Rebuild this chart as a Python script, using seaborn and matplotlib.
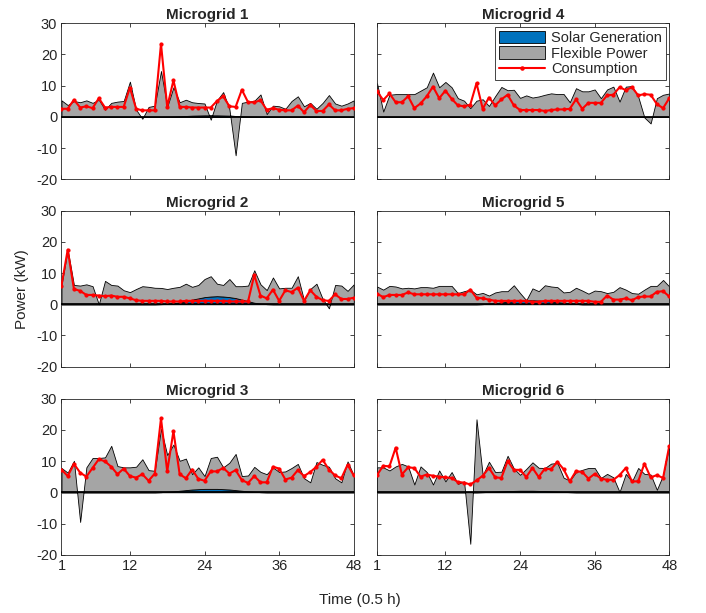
import numpy as np
import seaborn as sns
import matplotlib.pyplot as plt
from matplotlib.patches import Patch
from matplotlib.lines import Line2D

# === DATA (kW, 48 half-hour steps) ===
time_steps = list(range(1, 49))
grid_names = ["Microgrid 1", "Microgrid 2", "Microgrid 3",
              "Microgrid 4", "Microgrid 5", "Microgrid 6"]

consumption_1 = [2.6, 2.6, 5.5, 3.0, 3.4, 2.8, 6.0, 3.0, 3.2, 3.2,
                 3.2, 9.4, 2.6, 2.1, 2.1, 2.1, 23.4, 3.2, 11.7, 3.2,
                 3.2, 3.0, 3.0, 3.0, 3.0, 5.1, 6.6, 3.4, 3.2, 8.7,
                 4.7, 4.7, 5.3, 2.3, 2.8, 2.3, 2.1, 2.1, 3.6, 1.5,
                 3.8, 1.9, 1.9, 4.0, 2.1, 2.1, 2.6, 2.8]
flexible_1 = [5.3, 3.8, 5.1, 4.7, 5.3, 4.5, 5.5, 2.3, 4.5, 4.9,
              5.1, 11.3, 2.3, -0.6, 3.2, 3.6, 14.7, 3.2, 9.4, 4.5,
              5.2, 4.3, 4.0, 3.8, -1.4, 4.8, 7.5, 2.1, -12.6, 4.3,
              4.8, 5.1, 7.2, 0.9, 3.6, 3.4, 2.6, 5.1, 6.6, 3.4,
              4.5, 2.6, 4.5, 7.0, 4.3, 3.6, 4.3, 5.3]
solar_1 = [0, 0, 0, 0, 0, 0, 0, 0, 0, 0,
           0, 0, 0, 0, 0, 0, 0, 0.05, 0.1, 0.2,
           0.3, 0.4, 0.45, 0.5, 0.5, 0.5, 0.45, 0.4, 0.3, 0.2,
           0.1, 0.05, 0, 0, 0, 0, 0, 0, 0, 0,
           0, 0, 0, 0, 0, 0, 0, 0]

consumption_2 = [6.0, 17.5, 4.9, 4.3, 3.0, 3.0, 2.8, 2.6, 2.8, 2.4,
                 2.4, 1.9, 1.3, 1.1, 1.1, 1.1, 1.1, 0.9, 0.9, 0.9,
                 1.1, 1.1, 1.1, 1.1, 1.1, 1.1, 1.1, 0.9, 0.9, 0.9,
                 0.9, 9.4, 2.8, 1.9, 4.7, 1.1, 4.5, 3.9, 5.3, 1.1,
                 4.5, 2.4, 1.3, 1.1, 3.2, 1.7, 1.7, 2.1]
flexible_2 = [6.2, 17.5, 6.2, 6.0, 6.4, 5.8, 0.0, 7.5, 6.2, 6.0,
              4.5, 3.9, 4.9, 5.8, 5.6, 5.3, 5.2, 4.8, 5.0, 5.0,
              5.6, 4.1, 4.3, 5.8, 6.5, 4.0, 3.7, 5.8, 3.8, 4.3,
              5.0, 10.4, 6.2, 4.5, 8.6, 5.1, 5.3, 5.3, 9.0, 1.3,
              4.9, 6.6, 1.7, -1.3, 6.2, 6.0, 4.3, 6.4]
solar_2 = [0, 0, 0, 0, 0, 0, 0, 0, 0, 0,
           0, 0, 0, 0, 0, 0, 0.05, 0.1, 0.3, 0.6,
           1.0, 1.5, 1.9, 2.3, 2.5, 2.6, 2.5, 2.3, 2.0, 1.5,
           1.0, 0.5, 0.2, 0.05, 0, 0, 0, 0, 0, 0,
           0, 0, 0, 0, 0, 0, 0, 0]

consumption_3 = [7.3, 5.2, 9.1, 6.3, 5.0, 7.8, 10.6, 9.9, 8.2, 5.8,
                 7.6, 5.2, 4.7, 5.8, 3.7, 6.0, 23.7, 6.7, 19.6, 5.8,
                 4.5, 7.3, 4.3, 3.7, 6.7, 6.7, 7.8, 6.0, 7.1, 3.9,
                 3.0, 5.2, 3.2, 3.2, 8.2, 7.6, 4.1, 4.7, 7.1, 5.2,
                 6.5, 8.2, 10.4, 7.3, 5.4, 4.5, 8.8, 5.4]
flexible_3 = [7.8, 6.3, 10.1, -9.5, 8.0, 11.0, 11.0, 11.2, 14.9, 8.4,
              8.0, 8.0, 8.2, 10.6, 7.1, 6.9, 20.3, 11.8, 15.0, 9.6,
              10.1, 4.9, 7.0, 4.1, 9.9, 10.3, 7.0, 8.6, 11.6, 4.7,
              5.1, 8.0, 6.5, 5.8, 8.0, 6.5, 6.7, 7.8, 9.1, 4.5,
              3.2, 9.7, 8.8, 8.2, 4.5, 3.2, 9.9, 5.4]
solar_3 = [0, 0, 0, 0, 0, 0, 0, 0, 0, 0,
           0, 0, 0, 0, 0, 0, 0.05, 0.15, 0.3, 0.5,
           0.7, 0.9, 1.0, 1.1, 1.1, 1.1, 1.0, 0.9, 0.7, 0.5,
           0.3, 0.15, 0.05, 0, 0, 0, 0, 0, 0, 0,
           0, 0, 0, 0, 0, 0, 0, 0]

consumption_4 = [8.2, 5.4, 7.5, 4.7, 4.7, 6.6, 2.8, 4.3, 6.6, 9.7,
                 6.0, 8.4, 5.8, 3.7, 3.4, 3.9, 10.8, 2.6, 6.2, 3.7,
                 5.6, 7.1, 3.7, 2.2, 2.2, 2.2, 2.2, 1.9, 2.2, 2.4,
                 2.4, 2.6, 5.6, 2.6, 4.5, 4.5, 4.5, 6.9, 7.1, 9.5,
                 8.6, 9.5, 6.9, 7.3, 7.1, 4.1, 2.8, 6.0]
flexible_4 = [10.8, 1.7, 7.1, 7.3, 7.3, 7.3, 7.3, 8.4, 9.5, 14.2,
              9.5, 11.2, 9.5, 6.0, 5.2, 2.8, 5.2, 5.6, 3.4, 6.5,
              9.4, 8.3, 8.4, 5.8, 6.6, 5.9, 6.3, 6.9, 7.4, 7.2,
              7.3, 4.7, 9.2, 8.2, 8.2, 8.8, 6.0, 8.8, 9.7, 4.9,
              9.7, 9.9, 6.5, -0.2, -2.1, 6.0, 7.1, 7.5]
solar_4 = [0, 0, 0, 0, 0, 0, 0, 0, 0, 0,
           0, 0, 0, 0, 0, 0, 0, 0.05, 0.1, 0.15,
           0.2, 0.25, 0.3, 0.3, 0.3, 0.3, 0.25, 0.2, 0.15, 0.1,
           0.05, 0, 0, 0, 0, 0, 0, 0, 0, 0,
           0, 0, 0, 0, 0, 0, 0, 0]

consumption_5 = [3.4, 2.3, 3.0, 3.0, 3.0, 3.8, 3.2, 3.2, 3.2, 3.2,
                 3.2, 3.2, 3.2, 3.2, 3.2, 4.7, 2.1, 1.9, 1.5, 1.1,
                 1.1, 1.1, 1.1, 1.1, 1.1, 0.8, 0.8, 1.1, 1.1, 1.1,
                 1.1, 1.1, 1.1, 1.1, 1.1, 0.8, 0.8, 2.8, 1.5, 1.5,
                 1.9, 1.3, 2.3, 2.5, 2.5, 4.0, 4.2, 2.5]
flexible_5 = [5.7, 4.7, 5.9, 5.7, 5.1, 5.3, 5.1, 5.5, 5.5, 5.3,
              5.9, 5.9, 5.9, 3.6, 4.2, 4.7, 3.2, 3.6, 2.6, 3.4,
              3.6, 3.4, 5.1, 2.4, 0.0, 3.8, 3.0, 5.0, 4.8, 4.8,
              3.3, 3.7, 5.2, 4.4, 3.4, 4.4, 4.2, 3.6, 4.0, 5.5,
              4.7, 3.6, 3.4, 4.7, 5.9, 5.9, 7.8, 5.7]
solar_5 = [0, 0, 0, 0, 0, 0, 0, 0, 0, 0,
           0, 0, 0, 0, 0, 0, 0, 0.05, 0.2, 0.4,
           0.6, 0.8, 1.0, 1.2, 1.3, 1.3, 1.2, 1.1, 0.9, 0.7,
           0.5, 0.3, 0.1, 0, 0, 0, 0, 0, 0, 0,
           0, 0, 0, 0, 0, 0, 0, 0]

consumption_6 = [5.5, 8.5, 8.3, 14.3, 5.7, 8.0, 7.8, 5.0, 5.7, 5.3,
                 5.0, 4.8, 4.6, 3.3, 3.1, 2.5, 3.8, 5.3, 7.8, 4.8,
                 4.6, 10.0, 7.2, 7.2, 4.9, 7.8, 4.9, 7.6, 7.4, 9.8,
                 7.4, 3.5, 6.8, 6.5, 4.4, 5.9, 4.4, 4.0, 4.0, 5.5,
                 7.8, 3.5, 3.5, 9.2, 4.8, 5.5, 4.6, 14.9]
flexible_6 = [8.0, 8.0, 7.0, 8.3, 9.1, 8.3, 2.5, 8.3, 6.5, 2.5,
              7.0, 3.5, 6.5, 2.7, 3.5, -16.5, 23.4, 5.4, 9.7, 6.3,
              6.3, 11.3, 7.2, 5.1, 7.0, 9.1, 7.4, 7.4, 8.9, 9.2,
              4.6, 3.7, 6.5, 7.2, 7.8, 7.8, 4.6, 5.9, 4.8, 0.1,
              5.9, 3.5, 7.8, 5.9, 5.7, 0.8, 5.5, 14.9]
solar_6 = [0, 0, 0, 0, 0, 0, 0, 0, 0, 0,
           0, 0, 0, 0, 0, 0, 0, 0.05, 0.1, 0.2,
           0.3, 0.4, 0.45, 0.5, 0.5, 0.5, 0.45, 0.4, 0.3, 0.2,
           0.1, 0.05, 0, 0, 0, 0, 0, 0, 0, 0,
           0, 0, 0, 0, 0, 0, 0, 0]

consumption = [consumption_1, consumption_2, consumption_3,
               consumption_4, consumption_5, consumption_6]
flexible = [flexible_1, flexible_2, flexible_3,
            flexible_4, flexible_5, flexible_6]
solar = [solar_1, solar_2, solar_3, solar_4, solar_5, solar_6]

x_ticks = [1, 12, 24, 36, 48]
y_ticks = [-20, -10, 0, 10, 20, 30]

# === Style ===
sns.set_theme(style="ticks")
plt.rcParams["font.family"] = ["Liberation Sans", "DejaVu Sans"]
plt.rcParams["axes.linewidth"] = 0.6
plt.rcParams["axes.edgecolor"] = "#262626"
plt.rcParams["axes.unicode_minus"] = False

solar_color = "#0072BD"
flex_color = "#A5A5A5"

fig = plt.figure(figsize=(7.06, 6.13), dpi=100, facecolor="white")

col_left = [0.0871, 0.534]
row_bottom = [0.7075, 0.4018, 0.0951]
ax_w, ax_h = 0.414, 0.2545

for k in range(6):
    col = k // 3
    row = k % 3
    ax = fig.add_axes([col_left[col], row_bottom[row], ax_w, ax_h])

    s = np.array(solar[k])
    f = np.array(flexible[k])

    # stacked areas: solar at the bottom, flexible power on top of it
    ax.fill_between(time_steps, 0, s, facecolor=solar_color,
                    edgecolor="black", linewidth=0.6, zorder=1)
    ax.fill_between(time_steps, s, s + f, facecolor=flex_color,
                    edgecolor="black", linewidth=0.6, zorder=2)
    ax.axhline(0, color="black", linewidth=1.3, zorder=3)

    sns.lineplot(x=time_steps, y=consumption[k], ax=ax, color="red",
                 linewidth=1.5, marker=".", markersize=4.5,
                 markeredgecolor="red", zorder=4)

    ax.set_xlim(1, 48)
    ax.set_ylim(-20, 30)
    ax.set_xticks(x_ticks)
    ax.set_yticks(y_ticks)
    ax.tick_params(direction="in", length=3, width=0.6, top=True,
                   right=True, labelsize=10.5, colors="#262626", pad=3)
    if row != 2:
        ax.set_xticklabels([])
    if col == 1:
        ax.set_yticklabels([])
    ax.set_title(grid_names[k], fontsize=11, fontweight="bold", pad=3)

    if k == 3:
        handles = [
            Patch(facecolor=solar_color, edgecolor="black", linewidth=0.6),
            Patch(facecolor=flex_color, edgecolor="black", linewidth=0.6),
            Line2D([0], [0], color="red", linewidth=1.5, marker=".",
                   markersize=4.5),
        ]
        leg = ax.legend(handles, ["Solar Generation", "Flexible Power",
                                  "Consumption"],
                        loc="upper right", fontsize=10.5, frameon=True,
                        fancybox=False, framealpha=1, edgecolor="#262626",
                        borderaxespad=0.25, handlelength=3.2,
                        handleheight=0.9, labelspacing=0.12,
                        borderpad=0.25, handletextpad=0.4)
        leg.get_frame().set_linewidth(0.6)

fig.text(0.031, 0.529, "Power (kW)", rotation=90, ha="center",
         va="center", fontsize=11, color="#262626")
fig.text(0.51, 0.021, "Time (0.5 h)", ha="center", va="center",
         fontsize=11, color="#262626")

plt.savefig("out.png", dpi=100)
